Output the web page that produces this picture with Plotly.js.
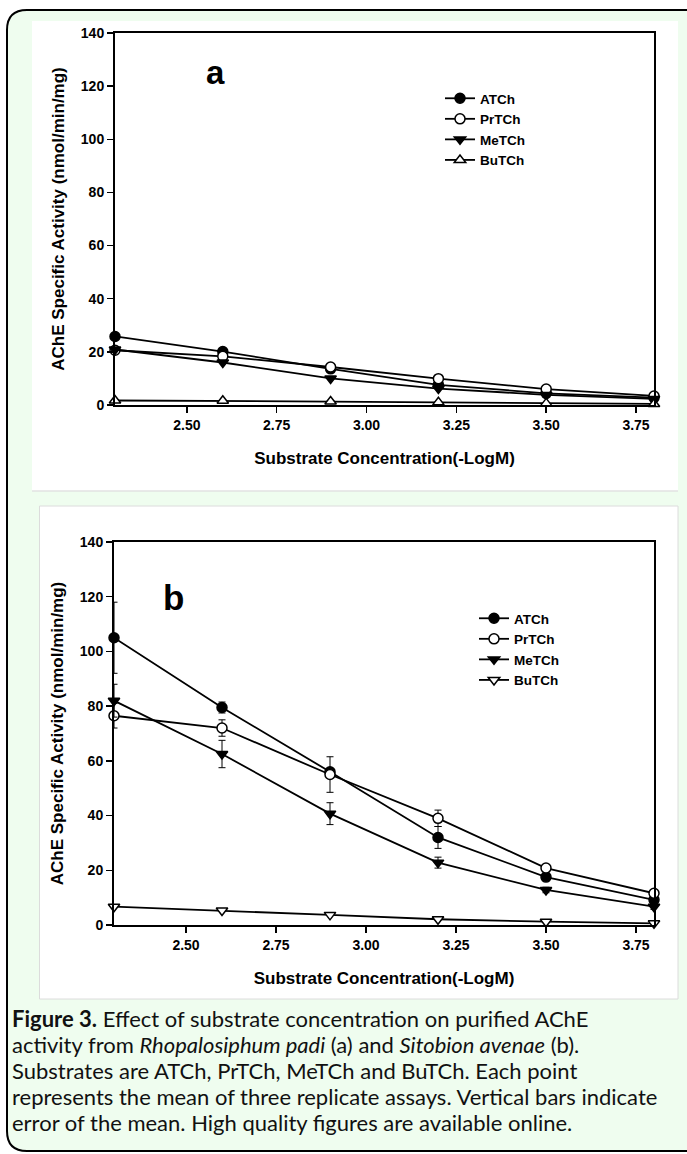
<!DOCTYPE html>
<html><head><meta charset="utf-8">
<script src="https://cdn.plot.ly/plotly-3.0.1.min.js"></script>
<style>html,body{margin:0;padding:0;background:#fff;} #chart{width:687px;height:1154px;}</style>
</head><body><div id="chart"></div>
<script>
// ---- data ----
const concentration = [2.3, 2.6, 2.9, 3.2, 3.5, 3.8];
const seriesNames = ['ATCh', 'PrTCh', 'MeTCh', 'BuTCh'];
// Panel a: Rhopalosiphum padi
const aATCh  = [25.8, 20.1, 13.6, 7.6, 4.4, 2.8];
const aPrTCh = [20.6, 18.3, 14.3, 9.9, 6.0, 3.4];
const aMeTCh = [20.9, 16.0, 10.0, 6.2, 3.8, 2.3];
const aBuTCh = [1.7, 1.6, 1.3, 1.0, 0.6, 0.4];
// Panel b: Sitobion avenae
const bATCh     = [105, 79.5, 56, 32, 17.5, 9.2];
const bATChErr  = [13, 2, 1, 4, 1, 1];
const bPrTCh    = [76.5, 72, 55, 39, 20.8, 11.6];
const bPrTChErr = [4.5, 3, 6.5, 3, 1, 1];
const bMeTCh    = [82, 62.5, 40.7, 22.8, 12.8, 6.7];
const bMeTChErr = [6, 5, 4, 2, 1, 1];
const bBuTCh    = [6.7, 5.3, 3.7, 2.1, 1.2, 0.6];
const xTickVals = [2.5, 2.75, 3.0, 3.25, 3.5, 3.75];
const xTickText = ['2.50', '2.75', '3.00', '3.25', '3.50', '3.75'];
const yTickVals = [0, 20, 40, 60, 80, 100, 120, 140];
const xTitle = 'Substrate Concentration(-LogM)';
const yTitle = 'AChE Specific Activity (nmol/min/mg)';
const captionLines = [
  '<b>Figure 3.</b> Effect of substrate concentration on purified AChE',
  'activity from <i>Rhopalosiphum padi</i> (a) and <i>Sitobion avenae</i> (b).',
  'Substrates are ATCh, PrTCh, MeTCh and BuTCh. Each point',
  'represents the mean of three replicate assays. Vertical bars indicate',
  'error of the mean. High quality figures are available online.'
];

// ---- helpers ----
const W = 687, H = 1154;
const px = x => x / W;
const py = y => 1 - y / H;
const FONT = 'Liberation Sans, Arial, sans-serif';

function trace(name, y, symbol, fill, xa, ya, legend, err) {
  const t = {
    type: 'scatter', mode: 'lines+markers', name: name,
    x: concentration, y: y, xaxis: xa, yaxis: ya, legend: legend,
    cliponaxis: false,
    line: {color: 'black', width: 1.8},
    marker: {symbol: symbol, size: 10, color: fill, line: {color: 'black', width: 1.5}}
  };
  if (err) t.error_y = {type: 'data', array: err, visible: true, color: 'black', thickness: 1, width: 3.5};
  return t;
}

const data = [
  trace(seriesNames[0], aATCh, 'circle', 'black', 'x', 'y', 'legend'),
  trace(seriesNames[1], aPrTCh, 'circle', 'white', 'x', 'y', 'legend'),
  trace(seriesNames[2], aMeTCh, 'triangle-down', 'black', 'x', 'y', 'legend'),
  trace(seriesNames[3], aBuTCh, 'triangle-up', 'white', 'x', 'y', 'legend'),
  trace(seriesNames[0], bATCh, 'circle', 'black', 'x2', 'y2', 'legend2', bATChErr),
  trace(seriesNames[1], bPrTCh, 'circle', 'white', 'x2', 'y2', 'legend2', bPrTChErr),
  trace(seriesNames[2], bMeTCh, 'triangle-down', 'black', 'x2', 'y2', 'legend2', bMeTChErr),
  trace(seriesNames[3], bBuTCh, 'triangle-down', 'white', 'x2', 'y2', 'legend2')
];

function xaxis(domain, anchor) {
  return {
    domain: domain, anchor: anchor, range: [2.3, 3.8],
    tickvals: xTickVals, ticktext: xTickText,
    showline: true, mirror: true, linecolor: 'black', linewidth: 2,
    ticks: 'outside', ticklen: 6, tickwidth: 1.5, tickcolor: 'black',
    showgrid: false, zeroline: false,
    tickfont: {family: FONT, size: 14, weight: 'bold', color: 'black'},
    title: {text: xTitle, standoff: 20, font: {family: FONT, size: 17, weight: 'bold', color: 'black'}}
  };
}
function yaxis(domain, anchor) {
  return {
    domain: domain, anchor: anchor, range: [0, 140],
    tickvals: yTickVals,
    showline: true, mirror: true, linecolor: 'black', linewidth: 2,
    ticks: 'outside', ticklen: 6, tickwidth: 1.5, tickcolor: 'black',
    showgrid: false, zeroline: false,
    tickfont: {family: FONT, size: 14, weight: 'bold', color: 'black'},
    title: {text: yTitle, standoff: 12, font: {family: FONT, size: 17, weight: 'bold', color: 'black'}}
  };
}

const legendBase = {
  xanchor: 'left', yanchor: 'top', bgcolor: 'rgba(0,0,0,0)', borderwidth: 0,
  font: {family: FONT, size: 13.5, weight: 'bold', color: 'black'}, tracegroupgap: 0
};

const captionY = [1018, 1044, 1070, 1096, 1122];
const captionAnnotations = captionLines.map((t, i) => ({
  text: t, xref: 'paper', yref: 'paper', x: px(10), y: py(captionY[i]), showarrow: false,
  xanchor: 'left', yanchor: 'middle', align: 'left',
  font: {family: 'Lato, Open Sans, sans-serif', size: 22, color: '#111'}
}));

const layout = {
  width: W, height: H, autosize: false,
  margin: {l: 0, r: 0, t: 0, b: 0, pad: 0},
  paper_bgcolor: 'white', plot_bgcolor: 'white',
  showlegend: true,
  font: {family: FONT, color: 'black'},
  xaxis: xaxis([px(115), px(654)], 'y'),
  yaxis: yaxis([py(405), py(33)], 'x'),
  xaxis2: xaxis([px(114), px(654)], 'y2'),
  yaxis2: yaxis([py(925), py(542)], 'x2'),
  legend: Object.assign({x: px(440), y: py(83)}, legendBase),
  legend2: Object.assign({x: px(474), y: py(603)}, legendBase),
  shapes: [
    {type: 'path', xref: 'paper', yref: 'paper', layer: 'below',
     path: `M ${px(7)},${py(30)} Q ${px(7)},${py(10)} ${px(27)},${py(10)} L ${px(720)},${py(10)} L ${px(720)},${py(1151)} L ${px(27)},${py(1151)} Q ${px(7)},${py(1151)} ${px(7)},${py(1131)} Z`,
     fillcolor: '#effdef', line: {color: 'black', width: 2}},
    {type: 'rect', xref: 'paper', yref: 'paper', layer: 'below',
     x0: px(32), x1: px(678), y0: py(491), y1: py(21), fillcolor: 'white', line: {width: 0}},
    {type: 'line', xref: 'paper', yref: 'paper', layer: 'below',
     x0: px(32), x1: px(678), y0: py(491), y1: py(491), line: {color: '#e2e2e2', width: 1.5}},
    {type: 'rect', xref: 'paper', yref: 'paper', layer: 'below',
     x0: px(39.5), x1: px(678), y0: py(999), y1: py(506), fillcolor: 'white', line: {color: '#dcdcdc', width: 1}}
  ],
  annotations: [
    {text: 'a', xref: 'paper', yref: 'paper', x: px(215), y: py(72), showarrow: false,
     xanchor: 'center', yanchor: 'middle', font: {family: FONT, size: 33, weight: 'bold', color: 'black'}},
    {text: 'b', xref: 'paper', yref: 'paper', x: px(173), y: py(597), showarrow: false,
     xanchor: 'center', yanchor: 'middle', font: {family: FONT, size: 35, weight: 'bold', color: 'black'}}
  ].concat(captionAnnotations)
};

Plotly.newPlot('chart', data, layout, {staticPlot: true, displayModeBar: false});
</script>
</body></html>
